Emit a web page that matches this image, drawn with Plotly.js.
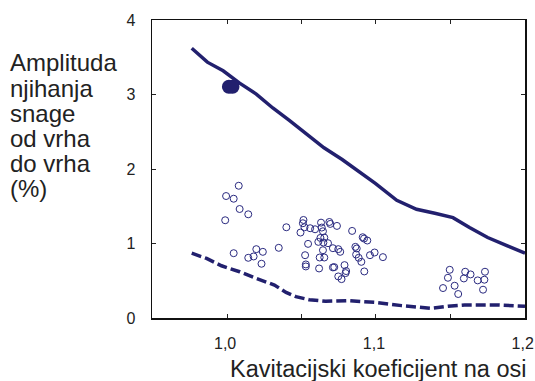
<!DOCTYPE html>
<html>
<head>
<meta charset="utf-8">
<script src="https://cdn.plot.ly/plotly-3.0.1.min.js"></script>
<style>html,body{margin:0;padding:0;background:#fff;}#chart{width:535px;height:381px;}</style>
</head>
<body>
<div id="chart"></div>
<script>
// Upper envelope (solid line)
var solidX = [0.9762, 0.9867, 0.9973, 1.0084, 1.0196, 1.0307, 1.0418, 1.0529, 1.0651, 1.0773, 1.0884, 1.0996, 1.1140, 1.1273, 1.1396, 1.1518, 1.1629, 1.1751, 1.1884, 1.2002];
var solidY = [3.621, 3.434, 3.318, 3.153, 3.006, 2.819, 2.654, 2.484, 2.284, 2.127, 1.971, 1.807, 1.579, 1.459, 1.405, 1.347, 1.214, 1.080, 0.968, 0.870];

// Lower envelope (dashed line)
var dashX = [0.9762, 0.9862, 0.9962, 1.0084, 1.0196, 1.0318, 1.0396, 1.0462, 1.0551, 1.0662, 1.0818, 1.0996, 1.1173, 1.1373, 1.1484, 1.1596, 1.1818, 1.2002];
var dashY = [0.870, 0.799, 0.701, 0.621, 0.531, 0.442, 0.344, 0.286, 0.246, 0.224, 0.233, 0.210, 0.166, 0.130, 0.157, 0.175, 0.175, 0.157];

// Measured points (open circles)
var openX = [1.0078, 0.9993, 1.0044, 1.0084, 1.0142, 0.9987, 1.0044, 1.0142, 1.0178, 1.0196, 1.0240, 1.0231, 1.0347, 1.0398,
  1.0513, 1.0509, 1.0493, 1.0520, 1.0558, 1.0591, 1.0631, 1.0636, 1.0644, 1.0687, 1.0693, 1.0738, 1.0840, 1.0911, 1.0920, 1.0942,
  1.0544, 1.0613, 1.0627, 1.0653, 1.0647, 1.0678, 1.0644, 1.0711, 1.0747, 1.0760, 1.0862, 1.0871, 1.0867, 1.0884, 1.0902, 1.0960,
  1.0991, 1.1047, 1.0524, 1.0529, 1.0529, 1.0622, 1.0653, 1.0618, 1.0711, 1.0720, 1.0789, 1.0800, 1.0796, 1.0747, 1.0769, 1.0922,
  1.1496, 1.1484, 1.1451, 1.1529, 1.1553, 1.1600, 1.1591, 1.1636, 1.1684, 1.1733, 1.1729, 1.1720];
var openY = [1.775, 1.637, 1.601, 1.463, 1.392, 1.312, 0.870, 0.808, 0.826, 0.924, 0.888, 0.728, 0.942, 1.218,
  1.316, 1.272, 1.147, 1.218, 1.205, 1.191, 1.280, 1.214, 1.164, 1.289, 1.263, 1.236, 1.169, 1.084, 1.066, 1.040,
  0.995, 1.022, 1.075, 1.080, 1.013, 1.004, 0.910, 0.937, 0.924, 0.888, 0.955, 0.933, 0.852, 0.808, 0.754, 0.843,
  0.879, 0.817, 0.843, 0.719, 0.692, 0.812, 0.812, 0.665, 0.679, 0.683, 0.710, 0.630, 0.603, 0.558, 0.522, 0.625,
  0.647, 0.540, 0.402, 0.433, 0.322, 0.621, 0.531, 0.585, 0.505, 0.621, 0.514, 0.380];

// Highlighted points (filled)
var filledX = [1.0012, 1.0036];
var filledY = [3.105, 3.105];

var yTitleLines = ['Amplituda', 'njihanja', 'snage', 'od vrha', 'do vrha', '(%)'];
var xTitleText = 'Kavitacijski koeficijent na osi';

var navy = '#22206e';
var font = 'Arial, "Liberation Sans", sans-serif';

var traces = [
  {x: solidX, y: solidY, type: 'scatter', mode: 'lines', line: {color: navy, width: 3.5}, hoverinfo: 'skip'},
  {x: dashX, y: dashY, type: 'scatter', mode: 'lines', line: {color: navy, width: 3.5, dash: '10px,4px'}, hoverinfo: 'skip'},
  {x: openX, y: openY, type: 'scatter', mode: 'markers',
   marker: {symbol: 'circle-open', size: 7, color: '#2a2a80', line: {width: 1, color: '#2a2a80'}}},
  {x: filledX, y: filledY, type: 'scatter', mode: 'markers',
   marker: {symbol: 'circle', size: 14, color: navy}}
];

var PL = 152, PR = 10, PT = 20, PB = 63;
var plotW = 535 - PL - PR, plotH = 381 - PT - PB;

var annotations = [];
var yPix = [63, 88, 113, 138, 163, 188];
for (var i = 0; i < yTitleLines.length; i++) {
  annotations.push({
    text: yTitleLines[i], xref: 'paper', yref: 'paper',
    x: (8 - PL) / plotW, y: (381 - PB - yPix[i]) / plotH,
    xanchor: 'left', yanchor: 'middle', showarrow: false, align: 'left',
    font: {family: font, size: 24, color: '#222'}
  });
}
annotations.push({
  text: xTitleText, xref: 'paper', yref: 'paper',
  x: (378 - PL) / plotW, y: (381 - PB - 369) / plotH,
  xanchor: 'center', yanchor: 'middle', showarrow: false,
  font: {family: font, size: 23.5, color: '#222'}
});

var layout = {
  width: 535, height: 381,
  margin: {l: PL, r: PR, t: PT, b: PB},
  paper_bgcolor: '#fff', plot_bgcolor: '#fff',
  showlegend: false,
  separators: ',.',
  font: {family: font, size: 16, color: '#222'},
  xaxis: {
    range: [0.9495, 1.2002], tick0: 1.0, dtick: 0.1, tickformat: '.1f',
    ticks: 'inside', ticklen: 4, tickcolor: '#222', tickwidth: 1,
    minor: {dtick: 0.05, tick0: 1.0, ticks: 'inside', ticklen: 4, tickcolor: '#222'},
    showline: true, linecolor: '#111', linewidth: 1.5, mirror: 'ticks',
    showgrid: false, zeroline: false, ticklabelstandoff: 10,
    ticklabelshift: -2, ticklabeloverflow: 'allow',
    tickfont: {family: font, size: 16, color: '#222'}
  },
  yaxis: {
    range: [0, 4], dtick: 1,
    ticks: 'inside', ticklen: 4, tickcolor: '#222', tickwidth: 1,
    showline: true, linecolor: '#111', linewidth: 1.5, mirror: 'ticks',
    showgrid: false, zeroline: false, ticklabelstandoff: 12,
    tickfont: {family: font, size: 16, color: '#222'}
  },
  annotations: annotations
};

Plotly.newPlot('chart', traces, layout, {staticPlot: true, displayModeBar: false});
</script>
</body>
</html>
